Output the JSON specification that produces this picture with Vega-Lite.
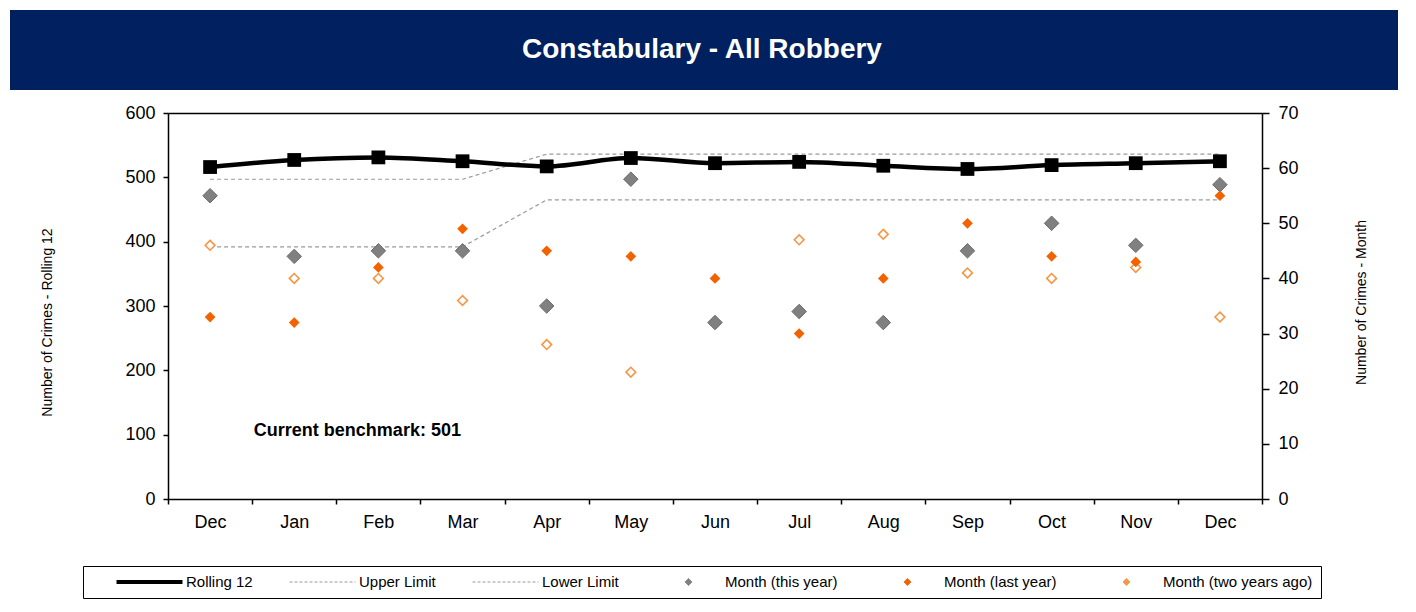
{
  "$schema": "https://vega.github.io/schema/vega-lite/v6.json",
  "autosize": {"type": "pad"},
  "padding": {"left": 10, "top": 10, "right": 18, "bottom": 14},
  "background": "white",
  "spacing": 23,
  "bounds": "flush",
  "config": {
    "font": "Liberation Sans",
    "view": {"stroke": null},
    "axis": {
      "grid": false,
      "domainColor": "#000000",
      "domainWidth": 1.5,
      "tickColor": "#000000",
      "tickWidth": 1.5,
      "tickSize": 5,
      "labelColor": "#000000",
      "labelFont": "Liberation Sans",
      "labelFontSize": 18,
      "titleFont": "Liberation Sans",
      "titleFontWeight": "normal",
      "titleFontSize": 14,
      "titleColor": "#000000"
    }
  },
  "datasets": {
    "series": [
      {"m": "Dec 1", "s": "Rolling 12", "v": 516},
      {"m": "Jan", "s": "Rolling 12", "v": 527},
      {"m": "Feb", "s": "Rolling 12", "v": 531},
      {"m": "Mar", "s": "Rolling 12", "v": 525},
      {"m": "Apr", "s": "Rolling 12", "v": 517},
      {"m": "May", "s": "Rolling 12", "v": 530},
      {"m": "Jun", "s": "Rolling 12", "v": 522},
      {"m": "Jul", "s": "Rolling 12", "v": 524},
      {"m": "Aug", "s": "Rolling 12", "v": 518},
      {"m": "Sep", "s": "Rolling 12", "v": 513},
      {"m": "Oct", "s": "Rolling 12", "v": 519},
      {"m": "Nov", "s": "Rolling 12", "v": 522},
      {"m": "Dec 2", "s": "Rolling 12", "v": 525},
      {"m": "Dec 1", "s": "Upper Limit", "v": 497},
      {"m": "Jan", "s": "Upper Limit", "v": 497},
      {"m": "Feb", "s": "Upper Limit", "v": 497},
      {"m": "Mar", "s": "Upper Limit", "v": 497},
      {"m": "Apr", "s": "Upper Limit", "v": 536},
      {"m": "May", "s": "Upper Limit", "v": 536},
      {"m": "Jun", "s": "Upper Limit", "v": 536},
      {"m": "Jul", "s": "Upper Limit", "v": 536},
      {"m": "Aug", "s": "Upper Limit", "v": 536},
      {"m": "Sep", "s": "Upper Limit", "v": 536},
      {"m": "Oct", "s": "Upper Limit", "v": 536},
      {"m": "Nov", "s": "Upper Limit", "v": 536},
      {"m": "Dec 2", "s": "Upper Limit", "v": 536},
      {"m": "Dec 1", "s": "Lower Limit", "v": 392},
      {"m": "Jan", "s": "Lower Limit", "v": 392},
      {"m": "Feb", "s": "Lower Limit", "v": 392},
      {"m": "Mar", "s": "Lower Limit", "v": 392},
      {"m": "Apr", "s": "Lower Limit", "v": 465},
      {"m": "May", "s": "Lower Limit", "v": 465},
      {"m": "Jun", "s": "Lower Limit", "v": 465},
      {"m": "Jul", "s": "Lower Limit", "v": 465},
      {"m": "Aug", "s": "Lower Limit", "v": 465},
      {"m": "Sep", "s": "Lower Limit", "v": 465},
      {"m": "Oct", "s": "Lower Limit", "v": 465},
      {"m": "Nov", "s": "Lower Limit", "v": 465},
      {"m": "Dec 2", "s": "Lower Limit", "v": 465},
      {"m": "Dec 1", "s": "Month (this year)", "v": 55},
      {"m": "Jan", "s": "Month (this year)", "v": 44},
      {"m": "Feb", "s": "Month (this year)", "v": 45},
      {"m": "Mar", "s": "Month (this year)", "v": 45},
      {"m": "Apr", "s": "Month (this year)", "v": 35},
      {"m": "May", "s": "Month (this year)", "v": 58},
      {"m": "Jun", "s": "Month (this year)", "v": 32},
      {"m": "Jul", "s": "Month (this year)", "v": 34},
      {"m": "Aug", "s": "Month (this year)", "v": 32},
      {"m": "Sep", "s": "Month (this year)", "v": 45},
      {"m": "Oct", "s": "Month (this year)", "v": 50},
      {"m": "Nov", "s": "Month (this year)", "v": 46},
      {"m": "Dec 2", "s": "Month (this year)", "v": 57},
      {"m": "Dec 1", "s": "Month (last year)", "v": 33},
      {"m": "Jan", "s": "Month (last year)", "v": 32},
      {"m": "Feb", "s": "Month (last year)", "v": 42},
      {"m": "Mar", "s": "Month (last year)", "v": 49},
      {"m": "Apr", "s": "Month (last year)", "v": 45},
      {"m": "May", "s": "Month (last year)", "v": 44},
      {"m": "Jun", "s": "Month (last year)", "v": 40},
      {"m": "Jul", "s": "Month (last year)", "v": 30},
      {"m": "Aug", "s": "Month (last year)", "v": 40},
      {"m": "Sep", "s": "Month (last year)", "v": 50},
      {"m": "Oct", "s": "Month (last year)", "v": 44},
      {"m": "Nov", "s": "Month (last year)", "v": 43},
      {"m": "Dec 2", "s": "Month (last year)", "v": 55},
      {"m": "Dec 1", "s": "Month (two years ago)", "v": 46},
      {"m": "Jan", "s": "Month (two years ago)", "v": 40},
      {"m": "Feb", "s": "Month (two years ago)", "v": 40},
      {"m": "Mar", "s": "Month (two years ago)", "v": 36},
      {"m": "Apr", "s": "Month (two years ago)", "v": 28},
      {"m": "May", "s": "Month (two years ago)", "v": 23},
      {"m": "Jul", "s": "Month (two years ago)", "v": 47},
      {"m": "Aug", "s": "Month (two years ago)", "v": 48},
      {"m": "Sep", "s": "Month (two years ago)", "v": 41},
      {"m": "Oct", "s": "Month (two years ago)", "v": 40},
      {"m": "Nov", "s": "Month (two years ago)", "v": 42},
      {"m": "Dec 2", "s": "Month (two years ago)", "v": 33}
    ]
  },
  "vconcat": [
    {
      "width": 1388,
      "height": 80,
      "view": {"fill": "#002060", "stroke": null},
      "data": {"values": [{"t": "Constabulary - All Robbery"}]},
      "mark": {"type": "text", "color": "white", "fontSize": 28, "fontWeight": "bold", "font": "Liberation Sans", "baseline": "middle", "align": "center", "dx": -2},
      "encoding": {"text": {"field": "t", "type": "nominal"}}
    },
    {
      "width": 1388,
      "height": 386,
      "data": {"name": "series"},
      "encoding": {
        "x": {
          "field": "m", "type": "nominal",
          "scale": {"type": "band", "domain": ["Dec 1","Jan","Feb","Mar","Apr","May","Jun","Jul","Aug","Sep","Oct","Nov","Dec 2"], "range": [158, 1252], "paddingInner": 0, "paddingOuter": 0},
          "axis": {"title": null, "orient": "bottom", "labelExpr": "substring(datum.label, 0, 3)", "labelAngle": 0, "tickBand": "extent", "labelPadding": 9}
        }
      },
      "layer": [
        {
          "encoding": {
            "y": {
              "field": "v", "type": "quantitative",
              "scale": {"domain": [0, 600], "nice": false},
              "axis": {"orient": "left", "offset": -158, "values": [0,100,200,300,400,500,600], "labelPadding": 8, "title": "Number of Crimes - Rolling 12", "titleAngle": -90, "titleX": -121, "titleY": 209, "titleAlign": "center", "titleBaseline": "middle"}
            }
          },
          "layer": [
            {
              "transform": [{"filter": "datum.s == 'Upper Limit' || datum.s == 'Lower Limit'"}],
              "mark": {"type": "line", "strokeWidth": 1.2, "strokeDash": [4, 3]},
              "encoding": {
                "color": {
                  "field": "s", "type": "nominal",
                  "scale": {"domain": ["Rolling 12","Upper Limit","Lower Limit","Month (this year)","Month (last year)","Month (two years ago)"], "range": ["#000000","#9a9a9a","#9a9a9a","#808080","#F26300","#F79646"]},
                  "legend": {
                    "title": " ",
                    "titleOrient": "left",
                    "titleFontSize": 15,
                    "titlePadding": 25,
                    "orient": "none",
                    "legendX": 73,
                    "legendY": 556,
                    "direction": "horizontal",
                    "columns": 6,
                    "columnPadding": 36,
                    "padding": 8,
                    "strokeColor": "#000000",
                    "fillColor": "white",
                    "symbolType": "stroke",
                    "symbolOffset": 26,
                    "clipHeight": 16,
                    "labelFont": "Liberation Sans",
                    "labelFontSize": 15,
                    "labelColor": "#000000",
                    "labelOffset": 29,
                    "labelLimit": 300,
                    "encode": {
                      "symbols": {
                        "update": {
                          "shape": {"signal": "indexof(['Rolling 12','Upper Limit','Lower Limit'], datum.value) >= 0 ? 'stroke' : 'diamond'"},
                          "size": {"signal": "indexof(['Rolling 12','Upper Limit','Lower Limit'], datum.value) >= 0 ? 4356 : 50"},
                          "strokeWidth": {"signal": "datum.value == 'Rolling 12' ? 4 : 1"},
                          "strokeDash": {"signal": "(datum.value == 'Upper Limit' || datum.value == 'Lower Limit') ? [3, 2] : [1, 0]"},
                          "fill": {"signal": "datum.value == 'Month (this year)' ? '#808080' : datum.value == 'Month (last year)' ? '#F26300' : datum.value == 'Month (two years ago)' ? '#ffffff' : 'transparent'"},
                          "stroke": {"signal": "datum.value == 'Rolling 12' ? '#000000' : datum.value == 'Month (this year)' ? '#6a6a6a' : datum.value == 'Month (last year)' ? '#F26300' : datum.value == 'Month (two years ago)' ? '#F79646' : '#9a9a9a'"},
                          "opacity": {"value": 1}
                        }
                      }
                    }
                  }
                }
              }
            },
            {
              "transform": [{"filter": "datum.s == 'Rolling 12'"}],
              "mark": {"type": "line", "strokeWidth": 4.5, "interpolate": "monotone"},
              "encoding": {"color": {"field": "s", "type": "nominal"}}
            },
            {
              "transform": [{"filter": "datum.s == 'Rolling 12'"}],
              "mark": {"type": "point", "shape": "square", "size": 190, "filled": true, "opacity": 1},
              "encoding": {"color": {"field": "s", "type": "nominal"}}
            },
            {
              "data": {"values": [{"m": "Feb", "v": 105, "t": "Current benchmark: 501"}]},
              "mark": {"type": "text", "fontSize": 18, "fontWeight": "bold", "font": "Liberation Sans", "align": "center", "baseline": "middle", "dx": -21, "color": "#000000"},
              "encoding": {"text": {"field": "t", "type": "nominal"}}
            }
          ]
        },
        {
          "encoding": {
            "x": {
              "field": "m", "type": "nominal",
              "scale": {"type": "band", "domain": ["Dec 1","Jan","Feb","Mar","Apr","May","Jun","Jul","Aug","Sep","Oct","Nov","Dec 2"], "range": [158, 1252], "paddingInner": 0, "paddingOuter": 0},
              "axis": {"title": null, "orient": "top", "labels": false, "ticks": false, "domain": true}
            },
            "y": {
              "field": "v", "type": "quantitative",
              "scale": {"domain": [0, 70], "nice": false},
              "axis": {"orient": "right", "offset": -136, "values": [0,10,20,30,40,50,60,70], "tickSize": 7, "labelPadding": 9, "title": "Number of Crimes - Month", "titleAngle": -90, "titleX": 99, "titleY": 189, "titleAlign": "center", "titleBaseline": "middle"}
            }
          },
          "layer": [
            {
              "transform": [{"filter": "datum.s == 'Month (this year)'"}],
              "mark": {"type": "point", "shape": "diamond", "size": 210, "filled": true, "opacity": 1, "stroke": "#6a6a6a", "strokeWidth": 1},
              "encoding": {"color": {"field": "s", "type": "nominal"}}
            },
            {
              "transform": [{"filter": "datum.s == 'Month (two years ago)'"}],
              "mark": {"type": "point", "shape": "diamond", "size": 95, "filled": false, "fill": "#ffffff", "opacity": 1, "strokeWidth": 1.6},
              "encoding": {"color": {"field": "s", "type": "nominal"}}
            },
            {
              "transform": [{"filter": "datum.s == 'Month (last year)'"}],
              "mark": {"type": "point", "shape": "diamond", "size": 115, "filled": true, "opacity": 1},
              "encoding": {"color": {"field": "s", "type": "nominal"}}
            }
          ]
        }
      ],
      "resolve": {"scale": {"y": "independent"}, "axis": {"x": "independent"}}
    }
  ]
}
